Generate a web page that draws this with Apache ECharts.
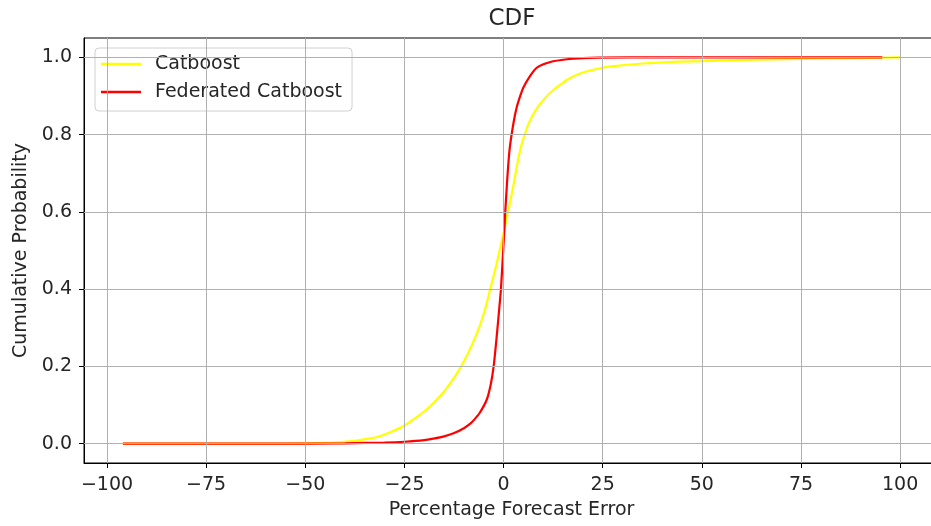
<!DOCTYPE html>
<html>
<head>
<meta charset="utf-8">
<script src="https://cdn.jsdelivr.net/npm/echarts@6/dist/echarts.min.js"></script>
<style>
  html, body { margin: 0; padding: 0; background: #fff; }
  #chart { width: 931px; height: 526px; }
</style>
</head>
<body>
<div id="chart"></div>
<script>
// ---- data ----
const seriesNames = ['Catboost', 'Federated Catboost'];

const catboostX = [-96, -60, -50, -45, -41, -37, -34, -31, -28, -25, -22, -18.5, -15, -12, -10, -8, -6, -4.6, -3.35, -2, -1, 0.2, 1.26, 2.5, 3.3, 4.2, 5.0, 6.5, 8.4, 10.5, 12.6, 14.3, 16, 19.3, 24, 27.7, 35, 44.5, 50, 60, 75, 90, 100];
const catboostY = [0, 0, 0.001, 0.002, 0.004, 0.008, 0.013, 0.02, 0.032, 0.047, 0.068, 0.097, 0.135, 0.178, 0.213, 0.255, 0.305, 0.35, 0.40, 0.455, 0.50, 0.554, 0.605, 0.67, 0.715, 0.76, 0.79, 0.833, 0.868, 0.895, 0.916, 0.929, 0.942, 0.958, 0.971, 0.977, 0.984, 0.989, 0.99, 0.993, 0.996, 0.998, 1.0];

const fedX = [-96, -60, -40, -30, -25, -20, -17.7, -15, -12.6, -10, -8.4, -7.5, -6, -4.2, -3.2, -2.5, -1.8, -1.0, -0.66, -0.15, 0.2, 0.43, 0.9, 1.5, 2.5, 3.3, 4.2, 5.0, 6.7, 8.5, 11.8, 16, 20, 24, 40, 60, 80, 95.5];
const fedY = [0, 0, 0.001, 0.003, 0.005, 0.009, 0.013, 0.019, 0.027, 0.040, 0.052, 0.061, 0.080, 0.115, 0.155, 0.2, 0.27, 0.36, 0.40, 0.49, 0.554, 0.6, 0.68, 0.76, 0.83, 0.87, 0.90, 0.922, 0.952, 0.974, 0.988, 0.995, 0.998, 0.999, 1.0, 1.0, 1.0, 1.0];

const xTicks = [-100, -75, -50, -25, 0, 25, 50, 75, 100];
const yTicks = [0, 0.2, 0.4, 0.6, 0.8, 1.0];

const titleText = 'CDF';
const xAxisName = 'Percentage Forecast Error';
const yAxisName = 'Cumulative Probability';

// ---- chart ----
const zip = (xs, ys) => xs.map((x, i) => [x, ys[i]]);
const FONT = 'DejaVu Sans';
const TXT = '#262626';
const GRIDC = '#b0b0b0';
const FS = 19;

const chart = echarts.init(document.getElementById('chart'), null, { renderer: 'canvas' });

const gridLines = [];
xTicks.forEach(v => gridLines.push({ xAxis: v }));
yTicks.forEach(v => gridLines.push({ yAxis: v }));

chart.setOption({
  animation: false,
  backgroundColor: '#ffffff',
  textStyle: { fontFamily: FONT },
  title: {
    text: titleText,
    left: 512, top: 8, textAlign: 'center', padding: 0,
    textStyle: { fontFamily: FONT, fontSize: 23, fontWeight: 'normal', color: TXT }
  },
  grid: {
    left: 84, top: 38, width: 855, bottom: 63,
    outerBoundsMode: 'none',
    containLabel: false,
    show: true, borderColor: '#000', borderWidth: 1, backgroundColor: 'transparent'
  },
  legend: {
    data: seriesNames.map(n => ({ name: n, icon: 'rect' })),
    orient: 'vertical',
    left: 95, top: 48,
    padding: [6, 10, 9, 6],
    itemWidth: 40, itemHeight: 2.5, itemGap: 8,
    backgroundColor: 'rgba(255,255,255,0.85)',
    borderColor: '#d0d0d0', borderWidth: 1, borderRadius: 4,
    textStyle: { fontFamily: FONT, fontSize: FS, color: TXT, lineHeight: 20, padding: [0, 0, 0, 9] }
  },
  xAxis: {
    type: 'value',
    min: -105.8, max: 109.8,
    name: xAxisName, nameLocation: 'middle', nameGap: 38,
    nameTextStyle: { fontFamily: FONT, fontSize: FS, color: TXT },
    axisLine: { show: true, onZero: false, lineStyle: { color: '#000', width: 1 } },
    axisTick: { show: true, customValues: xTicks, length: 5, lineStyle: { color: '#000' } },
    axisLabel: {
      customValues: xTicks, margin: 13,
      fontFamily: FONT, fontSize: FS, color: TXT,
      formatter: v => (v < 0 ? '\u2212' + Math.abs(v) : String(v))
    },
    splitLine: { show: false }
  },
  yAxis: {
    type: 'value',
    min: -0.05, max: 1.05,
    name: yAxisName, nameLocation: 'middle', nameGap: 53,
    nameTextStyle: { fontFamily: FONT, fontSize: FS, color: TXT },
    axisLine: { show: true, onZero: false, lineStyle: { color: '#000', width: 1 } },
    axisTick: { show: true, customValues: yTicks, length: 5, lineStyle: { color: '#000' } },
    axisLabel: {
      customValues: yTicks, margin: 12,
      fontFamily: FONT, fontSize: FS, color: TXT,
      formatter: v => v.toFixed(1)
    },
    splitLine: { show: false }
  },
  series: [
    {
      name: '__grid', type: 'line', data: [], silent: true, z: 1,
      markLine: {
        silent: true, symbol: 'none', animation: false,
        label: { show: false },
        lineStyle: { color: GRIDC, width: 1, type: 'solid' },
        emphasis: { disabled: true },
        data: gridLines
      }
    },
    {
      name: seriesNames[0], type: 'line', data: zip(catboostX, catboostY),
      symbol: 'none', smooth: 0.25, z: 3,
      lineStyle: { color: '#ffff00', width: 2.2 }, itemStyle: { color: '#ffff00' }
    },
    {
      name: seriesNames[1], type: 'line', data: zip(fedX, fedY),
      symbol: 'none', smooth: 0.25, z: 4,
      lineStyle: { color: '#ff0000', width: 2.2 }, itemStyle: { color: '#ff0000' }
    }
  ]
});
</script>
</body>
</html>
